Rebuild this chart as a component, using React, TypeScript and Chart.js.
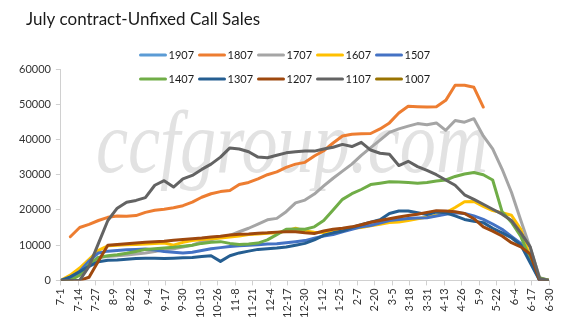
import React, { useEffect, useRef } from 'react';
import { Chart, registerables } from 'chart.js';

Chart.register(...registerables);

const chartTitle = 'July contract-Unfixed Call Sales';
const watermarkText = 'ccfgroup.com';

const tickLabels = ['7-1', '7-14', '7-27', '8-9', '8-22', '9-4', '9-17', '9-30', '10-13', '10-26', '11-8', '11-21', '12-4', '12-17', '12-30', '1-12', '1-25', '2-7', '2-20', '3-5', '3-18', '3-31', '4-13', '4-26', '5-9', '5-22', '6-4', '6-17', '6-30'];

// day offsets from 7-1 of each weekly observation
const weekDays = [0, 7, 14, 21, 28, 35, 42, 49, 56, 63, 70, 77, 84, 91, 98, 105, 112, 119, 126, 133, 140, 147, 154, 161, 168, 175, 182, 189, 196, 203, 210, 217, 224, 231, 238, 245, 252, 259, 266, 273, 280, 287, 294, 301, 308, 315, 322, 329, 336, 343, 350, 357, 364];

const seriesNames = ['1907', '1807', '1707', '1607', '1507', '1407', '1307', '1207', '1107', '1007'];
const seriesColors = ['#5B9BD5', '#ED7D31', '#A5A5A5', '#FFC000', '#4472C4', '#70AD47', '#255E91', '#9E480E', '#636363', '#997300'];

const v1907: (number | null)[] = [];
const v1807: (number | null)[] = [null, 12400, 15000, 15900, 17000, 17900, 18300, 18200, 18400, 19300, 19900, 20200, 20600, 21200, 22200, 23600, 24600, 25200, 25500, 27200, 27800, 28800, 30000, 30800, 32100, 33000, 33500, 35300, 36800, 39000, 41000, 41500, 41600, 41700, 43000, 44700, 47500, 49400, 49300, 49200, 49300, 51100, 55400, 55400, 54800, 49200];
const v1707: (number | null)[] = [0, 500, 2000, 4500, 6500, 6800, 7000, 7200, 7500, 7800, 8200, 8700, 9000, 9500, 10000, 11000, 11500, 12200, 12800, 13800, 14800, 16000, 17200, 17600, 19500, 22000, 22800, 24500, 26800, 29000, 31000, 33000, 35500, 37700, 39800, 42000, 43000, 43800, 44500, 44200, 44700, 42600, 45400, 44900, 45900, 41000, 37300, 31600, 25000, 17000, 9200, 800, 0];
const v1607: (number | null)[] = [0, 1500, 3500, 6000, 8500, 9800, 10000, 10100, 10200, 10300, 10500, 10600, 10000, 10800, 11300, 11600, 11800, 12000, 12300, 12600, 13000, 13200, 13400, 13500, 14000, 14800, 14000, 13700, 13600, 13800, 14200, 14800, 15000, 15500, 15900, 16400, 16600, 17000, 17500, 18000, 18500, 19200, 20700, 22300, 22400, 21000, 19800, 19200, 18500, 14500, 6500, 500, 0];
const v1507: (number | null)[] = [0, 500, 2500, 5500, 7800, 8300, 8500, 8700, 8800, 8900, 8600, 8200, 8000, 7800, 8000, 8500, 9000, 9300, 9600, 9800, 10000, 10100, 10300, 10400, 10700, 11000, 11300, 12000, 12600, 13000, 13800, 14500, 15200, 15600, 16300, 17000, 17300, 17600, 17700, 17800, 18300, 18800, 19200, 19000, 18300, 17300, 16000, 14500, 12500, 10500, 6000, 0, 0];
const v1407: (number | null)[] = [0, 0, 1500, 4500, 6500, 7000, 7300, 7700, 8200, 8800, 9000, 9200, 9400, 9700, 10000, 10500, 10800, 11000, 10500, 10200, 10300, 10600, 11500, 13000, 14500, 14600, 14500, 15200, 17000, 20000, 23000, 24600, 25800, 27200, 27600, 28000, 27900, 27800, 27600, 27800, 28200, 28500, 29500, 30200, 30600, 30000, 28500, 19500, 16500, 12500, 6000, 700, 0];
const v1307: (number | null)[] = [0, 1000, 2500, 4000, 5300, 5700, 5800, 6000, 6200, 6300, 6300, 6200, 6300, 6400, 6500, 6800, 7000, 5400, 7000, 7800, 8300, 8800, 9000, 9200, 9500, 10000, 10500, 11500, 12800, 13500, 14000, 15000, 15800, 16500, 17200, 19000, 19700, 19700, 19200, 18700, 19400, 19200, 18300, 17300, 16800, 16400, 14800, 13500, 12100, 10000, 5000, 0, 0];
const v1207: (number | null)[] = [0, 0, 0, 900, 5500, 10000, 10200, 10400, 10600, 10800, 11000, 11100, 11400, 11600, 11800, 12000, 12300, 12500, 12900, 13100, 13200, 13400, 13500, 13700, 13800, 13800, 13500, 13300, 14000, 14500, 14800, 15200, 15800, 16500, 17000, 17500, 18000, 18400, 18800, 19300, 19800, 19700, 19500, 19000, 17500, 15200, 14000, 12600, 10700, 9500, 7500, 0, 0];
const v1107: (number | null)[] = [0, 0, 0, 4000, 10500, 17000, 20500, 22200, 22700, 23500, 27000, 28300, 26500, 28800, 29800, 31500, 33000, 35000, 37600, 37300, 36500, 35000, 34800, 35500, 36200, 36500, 36700, 36700, 37300, 37800, 38600, 38000, 39200, 37000, 36100, 35800, 32600, 33800, 32300, 31200, 30000, 28500, 27000, 24300, 23000, 21600, 20200, 18800, 17000, 13500, 9500, 500, 0];
const v1007: (number | null)[] = [];

const seriesValues = [v1907, v1807, v1707, v1607, v1507, v1407, v1307, v1207, v1107, v1007];

const yTicks = { min: 0, max: 60000, step: 10000 };
const FONT = 'Lato, "Noto Sans", sans-serif';

const overlayPlugin = {
  id: 'overlay',
  beforeDatasetsDraw(chart: any) {
    const ctx = chart.ctx;
    ctx.save();
    ctx.translate(292, 172);
    ctx.scale(0.82, 1);
    ctx.font = 'italic 88px "Liberation Serif", serif';
    ctx.fillStyle = '#e2e2e2';
    ctx.textAlign = 'center';
    ctx.textBaseline = 'alphabetic';
    ctx.fillText(watermarkText, 0, 0);
    ctx.restore();
  },
  afterDraw(chart: any) {
    const ctx = chart.ctx;
    ctx.save();
    // title
    ctx.font = '17px ' + FONT;
    ctx.fillStyle = '#1a1a1a';
    ctx.textAlign = 'left';
    ctx.textBaseline = 'middle';
    ctx.fillText(chartTitle, 26, 20);
    // legend
    ctx.font = '11px ' + FONT;
    chart.data.datasets.forEach((ds: any, i: number) => {
      const row = Math.floor(i / 5);
      const col = i % 5;
      const x0 = 139.5 + col * 59;
      const y = 55 + row * 24;
      ctx.strokeStyle = ds.borderColor;
      ctx.lineWidth = 3;
      ctx.lineCap = 'round';
      ctx.beginPath();
      ctx.moveTo(x0 + 1, y);
      ctx.lineTo(x0 + 26, y);
      ctx.stroke();
      ctx.fillStyle = '#1a1a1a';
      ctx.fillText(ds.label, x0 + 29, y + 0.5);
    });
    ctx.restore();
  },
};

export default function App() {
  const ref = useRef<HTMLCanvasElement | null>(null);
  useEffect(() => {
    if (!ref.current) return;
    const datasets = seriesNames.map((name, i) => ({
      label: name,
      data: seriesValues[i].map((v, j) => ({ x: weekDays[j], y: v })),
      borderColor: seriesColors[i],
      backgroundColor: seriesColors[i],
      borderWidth: 3,
      pointRadius: 0,
      pointHoverRadius: 0,
      tension: 0,
      fill: false,
      spanGaps: false,
      borderJoinStyle: 'round',
      borderCapStyle: 'round',
      order: -i,
    }));
    const chart = new Chart(ref.current, {
      type: 'line',
      data: { datasets } as any,
      options: {
        animation: false,
        responsive: false,
        devicePixelRatio: 1,
        layout: { padding: { top: 69, left: 14, right: 18, bottom: 3 } },
        plugins: {
          legend: { display: false },
          title: { display: false },
          tooltip: { enabled: false },
        },
        scales: {
          x: {
            type: 'linear',
            min: 0,
            max: 364,
            grid: { display: true, drawOnChartArea: false, drawTicks: true, tickLength: 5, color: '#d0d0d0' },
            border: { display: true, color: '#d0d0d0' },
            ticks: {
              stepSize: 13,
              maxTicksLimit: 40,
              autoSkip: false,
              minRotation: 90,
              maxRotation: 90,
              padding: 3,
              color: '#333333',
              font: { family: FONT, size: 11 },
              callback: (value: any) => tickLabels[Math.round(Number(value) / 13)] ?? '',
            },
          },
          y: {
            min: yTicks.min,
            max: yTicks.max,
            grid: { display: true, drawOnChartArea: false, drawTicks: true, tickLength: 5, color: '#d0d0d0' },
            border: { display: true, color: '#d0d0d0' },
            ticks: {
              stepSize: yTicks.step,
              padding: 5,
              color: '#333333',
              font: { family: FONT, size: 11 },
              callback: (value: any) => String(value),
            },
          },
        },
      } as any,
      plugins: [overlayPlugin],
    });
    return () => chart.destroy();
  }, []);
  return (
    <div style={{ position: 'absolute', left: 0, top: 0, width: 567, height: 324, background: '#ffffff' }}>
      <canvas ref={ref} width={567} height={324} style={{ display: 'block' }} />
    </div>
  );
}
